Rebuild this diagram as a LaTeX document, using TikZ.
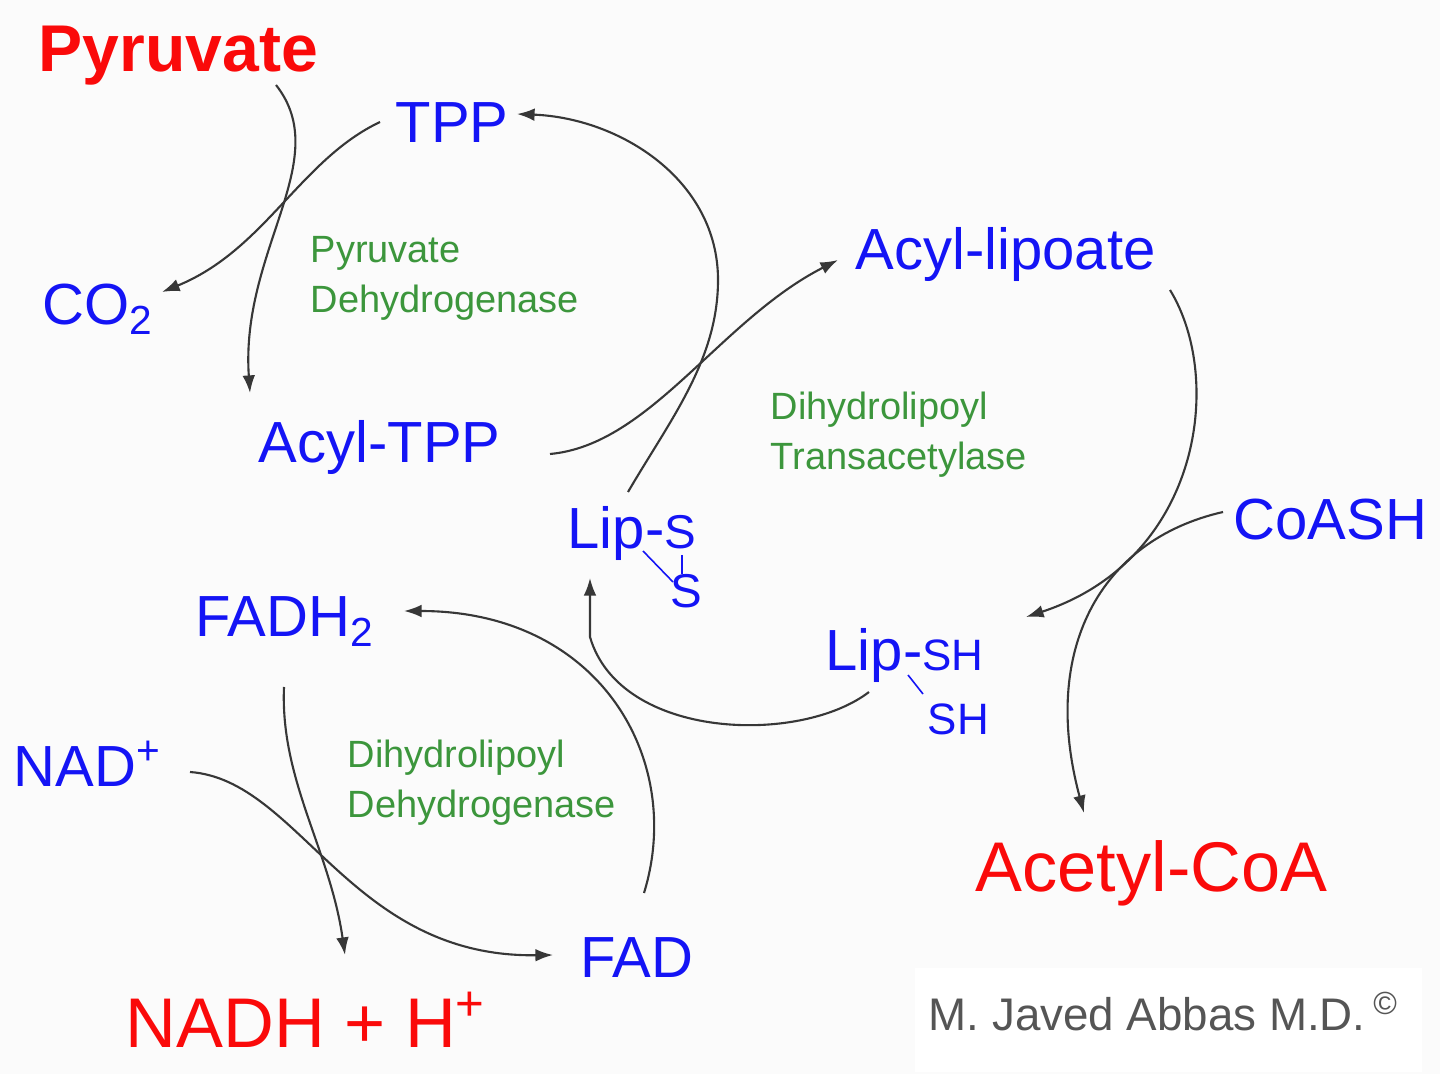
\documentclass[tikz,border=0pt]{standalone}
\usepackage{fontspec}
\setmainfont{Liberation Sans}
\usetikzlibrary{arrows.meta}
\definecolor{molblue}{RGB}{20,20,245}
\definecolor{molred}{RGB}{250,10,10}
\definecolor{enzgreen}{RGB}{60,150,60}
\definecolor{linegray}{RGB}{55,55,55}
\definecolor{paper}{RGB}{251,251,251}
\definecolor{signgray}{RGB}{85,85,85}
\begin{document}
\begin{tikzpicture}[x=0.01cm,y=-0.01cm,
  mol/.style={anchor=base west,inner sep=0,text=molblue,font=\fontsize{16.5}{19}\selectfont},
  molsmall/.style={anchor=base west,inner sep=0,text=molblue,font=\fontsize{12.5}{15}\selectfont},
  main/.style={anchor=base west,inner sep=0,text=molred,font=\fontsize{20}{24}\selectfont},
  enz/.style={anchor=base west,inner sep=0,text=enzgreen,font=\fontsize{10.8}{13}\selectfont},
  arr/.style={-{Latex[length=5pt,width=3.6pt]},draw=linegray,line width=0.6pt},
  bond/.style={draw=molblue,line width=0.45pt}]
  \useasboundingbox (0,0) rectangle (1440,1074);
  \fill[paper] (0,0) rectangle (1440,1074);
  \fill[white] (915,968) rectangle (1422,1072);

  % metabolites
  \node[main,font=\bfseries\fontsize{18.8}{22}\selectfont] (pyr) at (38,72) {Pyruvate};
  \node[mol] (tpp) at (395,143) {TPP};
  \node[mol] (co2) at (42,325) {CO\textsubscript{2}};
  \node[mol] (acyltpp) at (258,463) {Acyl-TPP};
  \node[mol] (acyllip) at (855,270) {Acyl-lipoate};
  \node[mol] (lips) at (567,549) {Lip-\fontsize{13.5}{15}\selectfont S};
  \node[molsmall,font=\fontsize{13.5}{15}\selectfont] (lips2) at (670,608) {S};
  \node[mol] (coash) at (1233,540) {CoASH};
  \node[mol] (fadh) at (195,637) {FADH\textsubscript{2}};
  \node[mol] (lipsh) at (825,671) {Lip-\fontsize{12.5}{15}\selectfont SH};
  \node[molsmall] (lipsh2) at (927,735) {SH};
  \node[mol] (nad) at (13,787) {NAD\textsuperscript{+}};
  \node[main] (acoa) at (975,892) {Acetyl-CoA};
  \node[mol] (fad) at (580,978) {FAD};
  \node[main] (nadh) at (125,1047) {NADH + H\textsuperscript{+}};

  % enzymes
  \node[enz] (pdh1) at (310,263) {Pyruvate};
  \node[enz] (pdh2) at (310,313) {Dehydrogenase};
  \node[enz] (dlt1) at (770,420) {Dihydrolipoyl};
  \node[enz] (dlt2) at (770,470) {Transacetylase};
  \node[enz] (dld1) at (347,768) {Dihydrolipoyl};
  \node[enz] (dld2) at (347,818) {Dehydrogenase};

  \node[anchor=base west,inner sep=0,text=signgray,font=\fontsize{13}{15}\selectfont] (sign) at (928,1030) {M. Javed Abbas M.D.\,\textsuperscript{\textcopyright}};

  % ring bonds
  \draw[bond] (643,551) -- (673,582);
  \draw[bond] (682,555) -- (682,574);
  \draw[bond] (908,675) -- (923,694);

  % arrow ends
  \coordinate (pyr-out) at (276,85);
  \coordinate (acyltpp-in) at (250,393);
  \coordinate (tpp-out) at (380,122);
  \coordinate (co2-in) at (162,292);
  \coordinate (lips-out) at (628,492);
  \coordinate (tpp-in) at (517,114);
  \coordinate (acyltpp-out) at (550,454);
  \coordinate (acyllip-in) at (838,260);
  \coordinate (acyllip-out) at (1170,290);
  \coordinate (lipsh-in) at (1026,617);
  \coordinate (coash-out) at (1223,512);
  \coordinate (acoa-in) at (1084,813);
  \coordinate (lipsh-out) at (869,692);
  \coordinate (lips-in) at (590,578);
  \coordinate (fad-out) at (644,893);
  \coordinate (fadh-in) at (404,611);
  \coordinate (fadh-out) at (284,687);
  \coordinate (nadh-in) at (345,955);
  \coordinate (nad-out) at (190,772);
  \coordinate (fad-in) at (553,955);

  % reactions
  \draw[arr] (pyr-out) .. controls (335,160) and (240,250) .. (acyltpp-in);
  \draw[arr] (tpp-out) .. controls (300,160) and (265,250) .. (co2-in);
  \draw[arr] (lips-out) .. controls (670,420) and (718,360) .. (718,280)
    .. controls (718,180) and (620,118) .. (tpp-in);
  \draw[arr] (acyltpp-out) .. controls (650,445) and (720,320) .. (acyllip-in);
  \draw[arr] (acyllip-out) .. controls (1225,380) and (1200,560) .. (lipsh-in);
  \draw[arr] (coash-out) .. controls (1100,540) and (1040,650) .. (acoa-in);
  \draw[arr] (lipsh-out) .. controls (800,745) and (620,740) .. (590,637) -- (lips-in);
  \draw[arr] (fad-out) .. controls (685,760) and (600,611) .. (fadh-in);
  \draw[arr] (fadh-out) .. controls (280,780) and (330,850) .. (nadh-in);
  \draw[arr] (nad-out) .. controls (300,780) and (350,958) .. (fad-in);
\end{tikzpicture}
\end{document}
